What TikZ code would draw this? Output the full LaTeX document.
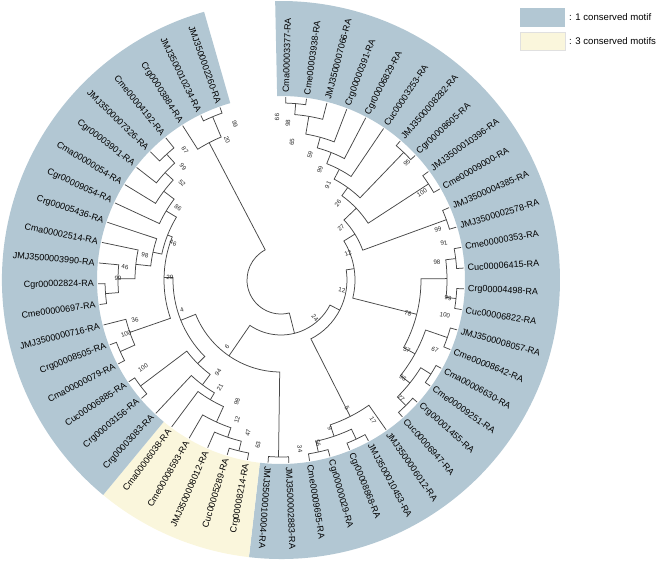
\documentclass[tikz,border=0pt]{standalone}
\usepackage{fontspec}
\setmainfont{Liberation Sans}
\definecolor{motifblue}{RGB}{178,199,211}
\definecolor{motifyellow}{RGB}{250,246,220}
\tikzset{
  br/.style={line width=0.75pt, black!72},
  leaflab/.style={font=\fontsize{9}{9}\selectfont, inner sep=0pt},
  bs/.style={font=\fontsize{6.2}{6.2}\selectfont, inner sep=0pt, text=black!85},
  legtext/.style={font=\fontsize{9.6}{9.6}\selectfont, anchor=west, inner sep=0pt},
}
\makeatletter
\def\tipr{183}
\newcommand\join[4]{% name, radius, child1, child2
  \pgfmathsetmacro\ja{\csname ang@#3\endcsname}%
  \pgfmathsetmacro\jb{\csname ang@#4\endcsname}%
  \pgfmathsetmacro\jra{\csname rad@#3\endcsname}%
  \pgfmathsetmacro\jrb{\csname rad@#4\endcsname}%
  \pgfmathsetmacro\jm{(\ja+\jb)/2}%
  \draw[br] (\ja:\jra) -- (\ja:#2) arc[start angle=\ja, end angle=\jb, radius=#2] -- (\jb:\jrb);
  \coordinate (#1) at (\jm:#2);
  \expandafter\xdef\csname ang@#1\endcsname{\jm}%
  \expandafter\xdef\csname rad@#1\endcsname{#2}%
}
\newcommand\leaf[2]{% index, text
  \pgfmathsetmacro\la{88.5-6.52*(#1-1)}%
  \expandafter\xdef\csname ang@L#1\endcsname{\la}%
  \expandafter\xdef\csname rad@L#1\endcsname{\tipr}%
  \pgfmathtruncatemacro\lside{\la>-97?1:0}%
  \ifnum\lside=1
    \node[leaflab, anchor=west, rotate=\la] (lab#1) at (\la:187) {#2};
  \else
    \node[leaflab, anchor=east, rotate={\la+180}] (lab#1) at (\la:187) {#2};
  \fi}
% bootstrap value at a position given in picture pixels (from top-left)
\newcommand\bsat[4]{% name, x, y, text
  \pgfmathsetmacro\bx{#2-281}%
  \pgfmathsetmacro\by{280-#3}%
  \pgfmathsetmacro\bt{atan2(\by,\bx)}%
  \pgfmathsetmacro\brot{(\bt>-90 && \bt<90) ? \bt : \bt+180}%
  \node[bs, rotate=\brot] (#1) at (\bx,\by) {#4};}
\makeatother
\begin{document}
\begin{tikzpicture}[x=1pt,y=1pt]
\useasboundingbox (-281,-282) rectangle (388,280);
% coloured sectors
\fill[motifblue] (91.2:184) arc[start angle=91.2, end angle=-96.6, radius=184] -- (-96.6:279) arc[start angle=-96.6, end angle=91.2, radius=279] -- cycle;
\fill[motifyellow] (-96.6:184) arc[start angle=-96.6, end angle=-129.6, radius=184] -- (-129.6:279) arc[start angle=-129.6, end angle=-96.6, radius=279] -- cycle;
\fill[motifblue] (-129.6:184) arc[start angle=-129.6, end angle=-254, radius=184] -- (-254:279) arc[start angle=-254, end angle=-129.6, radius=279] -- cycle;
% legend
\node[fill=motifblue, minimum width=45pt, minimum height=19pt, inner sep=0pt] (lgb) at (261.5,262.5) {};
\node[draw=black!12, fill=motifyellow, minimum width=45pt, minimum height=18pt, inner sep=0pt] (lgy) at (261.5,239) {};
\node[legtext] (lgbt) at (288,262.5) {: 1 conserved motif};
\node[legtext] (lgyt) at (288,239) {: 3 conserved motifs};
% leaves
\leaf{1}{Cma00003377-RA}
\leaf{2}{Cme00003938-RA}
\leaf{3}{JMJ3500007066-RA}
\leaf{4}{Crg00000391-RA}
\leaf{5}{Cgr00006829-RA}
\leaf{6}{Cuc00003253-RA}
\leaf{7}{JMJ3500008282-RA}
\leaf{8}{Cgr00008605-RA}
\leaf{9}{JMJ3500010396-RA}
\leaf{10}{Cme00009000-RA}
\leaf{11}{JMJ3500004385-RA}
\leaf{12}{JMJ3500002578-RA}
\leaf{13}{Cme00000353-RA}
\leaf{14}{Cuc00006415-RA}
\leaf{15}{Crg00004498-RA}
\leaf{16}{Cuc00006822-RA}
\leaf{17}{JMJ3500008057-RA}
\leaf{18}{Cme00008642-RA}
\leaf{19}{Cma00006630-RA}
\leaf{20}{Cme00009251-RA}
\leaf{21}{Crg00001455-RA}
\leaf{22}{Cuc00006947-RA}
\leaf{23}{JMJ3500006012-RA}
\leaf{24}{JMJ3500010453-RA}
\leaf{25}{Cgr00008868-RA}
\leaf{26}{Cgr00000029-RA}
\leaf{27}{Cme00009695-RA}
\leaf{28}{JMJ3500002883-RA}
\leaf{29}{JMJ3500010004-RA}
\leaf{30}{Crg00008214-RA}
\leaf{31}{Cuc00005289-RA}
\leaf{32}{JMJ3500008012-RA}
\leaf{33}{Cme00008593-RA}
\leaf{34}{Cma00006038-RA}
\leaf{35}{Crg00003083-RA}
\leaf{36}{Crg00003156-RA}
\leaf{37}{Cuc00006885-RA}
\leaf{38}{Cma00000079-RA}
\leaf{39}{Crg00008505-RA}
\leaf{40}{JMJ3500000716-RA}
\leaf{41}{Cme00000697-RA}
\leaf{42}{Cgr00002824-RA}
\leaf{43}{JMJ3500003990-RA}
\leaf{44}{Cma00002514-RA}
\leaf{45}{Crg00005436-RA}
\leaf{46}{Cgr00009054-RA}
\leaf{47}{Cma00000054-RA}
\leaf{48}{Cgr00003901-RA}
\leaf{49}{JMJ3500007326-RA}
\leaf{50}{Cme00004192-RA}
\leaf{51}{Crg00003884-RA}
\leaf{52}{JMJ3500010234-RA}
\leaf{53}{JMJ3500002260-RA}
% tree: upper right clade
\join{a1}{177}{L1}{L2}
\join{a2}{166}{a1}{L3}
\join{a3}{148}{a2}{L4}
\join{a4}{137}{a3}{L5}
\join{a5}{125}{a4}{L6}
\join{p78}{177}{L7}{L8}
\join{a6}{114}{a5}{p78}
\join{p910}{176}{L9}{L10}
\join{a7}{104}{a6}{p910}
\join{p1112}{176}{L11}{L12}
\join{a8}{87}{a7}{p1112}
% right clade
\join{p1314}{176}{L13}{L14}
\join{p1516}{176}{L15}{L16}
\join{b1}{166}{p1314}{p1516}
\join{p1718}{176}{L17}{L18}
\join{p1920}{177}{L19}{L20}
\join{p2122}{177}{L21}{L22}
\join{b2}{165}{p1920}{p2122}
\join{b3}{153}{p1718}{b2}
\join{b4}{140}{b1}{b3}
\join{ab}{74}{a8}{b4}
% lower right clade
\join{p2425}{176}{L24}{L25}
\join{p2627}{176}{L26}{L27}
\join{cx}{165}{p2425}{p2627}
\join{c5}{153}{L23}{cx}
\join{abc}{66}{ab}{c5}
% lower left: yellow clade and left ladder
\join{p2829}{177}{L28}{L29}
\join{y1}{176}{L30}{L31}
\join{y2}{166}{y1}{L32}
\join{y3}{156}{y2}{L33}
\join{y4}{139}{y3}{L34}
\join{yy1}{131}{y4}{L35}
\join{p3637}{176}{L36}{L37}
\join{yy2}{118}{yy1}{p3637}
\join{p3839}{176}{L38}{L39}
\join{n36}{160}{p3839}{L40}
\join{p4142}{176}{L41}{L42}
\join{n46a}{163}{p4142}{L43}
\join{n98}{146}{n46a}{L44}
\join{n46b}{131}{n98}{L45}
\join{p4950}{170}{L49}{L50}
\join{n99}{158}{L48}{p4950}
\join{n52}{147}{L47}{n99}
\join{n86}{134}{L46}{n52}
\join{nR}{122}{n46b}{n86}
\join{n29}{117}{n36}{nR}
\join{nLL}{108}{yy2}{n29}
\join{nLeft}{92}{p2829}{nLL}
\join{rest}{55}{nLeft}{abc}
% top left clade and root
\join{p5253}{177}{L52}{L53}
\join{tl}{155}{L51}{p5253}
\join{root}{34}{rest}{tl}
% bootstrap values
\bsat{s1}{277}{117}{99}
\bsat{s2}{288}{123}{98}
\bsat{s3}{292}{142}{65}
\bsat{s4}{310}{155}{59}
\bsat{s5}{320}{170}{99}
\bsat{s6}{328}{185}{91}
\bsat{s7}{338}{203}{26}
\bsat{s8}{341}{228}{27}
\bsat{s9}{348}{253}{12}
\bsat{s10}{407}{163}{95}
\bsat{s11}{422}{193}{100}
\bsat{s12}{438}{229}{99}
\bsat{s13}{444}{243}{91}
\bsat{s14}{437}{262}{98}
\bsat{s15}{448}{298}{99}
\bsat{s16}{445}{315}{100}
\bsat{s17}{408}{313}{78}
\bsat{s18}{407}{350}{57}
\bsat{s19}{435}{350}{67}
\bsat{s20}{403}{378}{96}
\bsat{s21}{401}{398}{77}
\bsat{s22}{347}{408}{5}
\bsat{s23}{373}{420}{17}
\bsat{s24}{330}{428}{9}
\bsat{s25}{318}{443}{56}
\bsat{s26}{300}{449}{34}
\bsat{s27}{342}{290}{12}
\bsat{s28}{315}{318}{24}
\bsat{s29}{258}{445}{63}
\bsat{s30}{248}{433}{47}
\bsat{s31}{237}{420}{12}
\bsat{s32}{237}{402}{98}
\bsat{s33}{220}{387}{21}
\bsat{s34}{218}{372}{94}
\bsat{s35}{227}{347}{6}
\bsat{s36}{182}{310}{4}
\bsat{s37}{143}{368}{100}
\bsat{s38}{126}{334}{100}
\bsat{s39}{135}{320}{36}
\bsat{s40}{170}{277}{29}
\bsat{s41}{118}{278}{99}
\bsat{s42}{125}{267}{46}
\bsat{s43}{145}{255}{98}
\bsat{s44}{173}{243}{46}
\bsat{s45}{178}{208}{86}
\bsat{s46}{182}{183}{52}
\bsat{s47}{183}{167}{99}
\bsat{s48}{185}{150}{87}
\bsat{s49}{227}{140}{20}
\bsat{s50}{235}{124}{99}
\end{tikzpicture}
\end{document}
